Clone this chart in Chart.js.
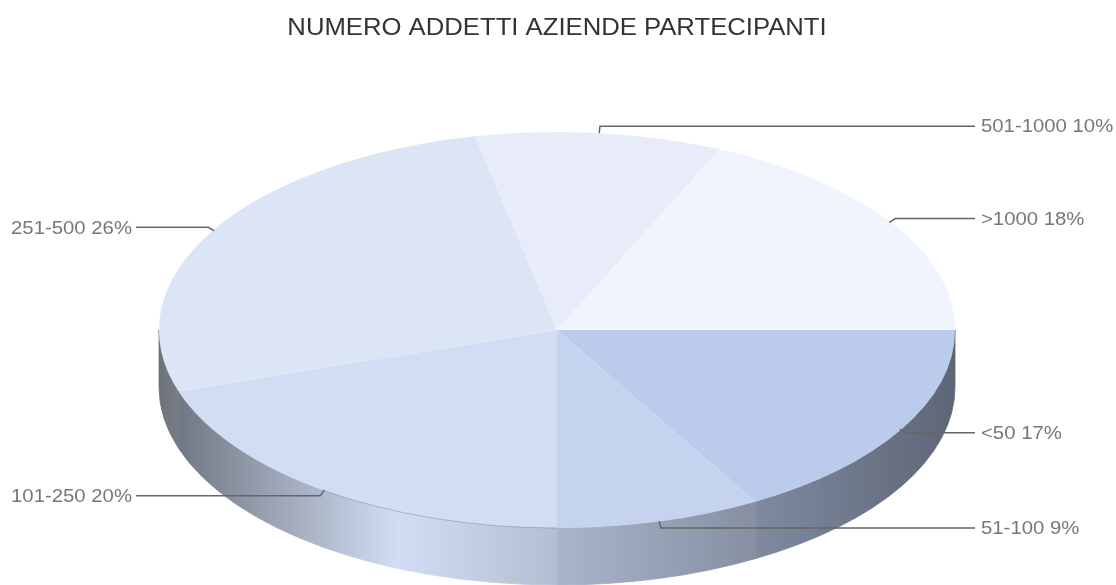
<!DOCTYPE html>
<html>
<head>
<meta charset="utf-8">
<title>Numero addetti</title>
<script src="https://cdn.jsdelivr.net/npm/chart.js@4"></script>
<style>
  html, body { margin: 0; padding: 0; background: #fff; overflow: hidden; }
  canvas { display: block; filter: blur(0.7px); }
</style>
</head>
<body>
<canvas id="pie" width="1116" height="585"></canvas>
<script>
// values, clockwise from 3 o'clock
const categories = ["<50", "51-100", "101-250", "251-500", "501-1000", ">1000"];
const shares = [16.7, 8.3, 20, 26.7, 10, 18.3];
const shownPct = ["17%", "9%", "20%", "26%", "10%", "18%"];
const topColors = ["#bbcbeb", "#c5d3ee", "#d1ddf3", "#dce5f5", "#e7ecf8", "#f0f4fc"];
const titleText = "NUMERO ADDETTI AZIENDE PARTECIPANTI";

// flat pie gets stretched into an ellipse when drawn
const STRETCH = 398 / 198;
const DEPTH = 57;
const FONT = "Liberation Sans";
// the reference text is a bit wider than the font, same factor everywhere
const TEXT_WIDE = 1.07;

function shade(hex, f){
  const n = parseInt(hex.slice(1), 16);
  const c = [n >> 16, (n >> 8) & 255, n & 255].map(v => Math.round(v * f));
  return `rgb(${c[0]},${c[1]},${c[2]})`;
}

function wideText(ctx, text, x, y, align){
  ctx.save();
  ctx.translate(x, y);
  ctx.scale(TEXT_WIDE, 1);
  ctx.textAlign = align;
  ctx.textBaseline = "middle";
  ctx.fillText(text, 0, 0);
  ctx.restore();
}

const pie3d = {
  id: "pie3d",
  beforeDatasetsDraw(chart){
    const ctx = chart.ctx;
    const arcs = chart.getDatasetMeta(0).data;
    const cx = arcs[0].x, cy = arcs[0].y, ry = arcs[0].outerRadius, rx = ry * STRETCH;

    // side wall, only the front half shows
    arcs.forEach((arc, i) => {
      const a0 = Math.max(arc.startAngle, 0), a1 = Math.min(arc.endAngle, Math.PI);
      if (a1 <= a0) return;
      const g = ctx.createLinearGradient(cx - rx, 0, cx + rx, 0);
      g.addColorStop(0, shade(topColors[i], 0.5));
      g.addColorStop(0.3, shade(topColors[i], 1));
      g.addColorStop(1, shade(topColors[i], 0.5));
      ctx.beginPath();
      ctx.ellipse(cx, cy, rx, ry, 0, a0, a1);
      ctx.ellipse(cx, cy + DEPTH, rx, ry, 0, a1, a0, true);
      ctx.closePath();
      ctx.fillStyle = g;
      ctx.fill();
      // hides the seam between two neighbours
      ctx.strokeStyle = g;
      ctx.lineWidth = 0.8;
      ctx.stroke();
    });

    ctx.save();
    ctx.translate(cx, cy);
    ctx.scale(STRETCH, 1);
    ctx.translate(-cx, -cy);
  },
  afterDatasetsDraw(chart){
    const ctx = chart.ctx;
    ctx.restore();

    const arcs = chart.getDatasetMeta(0).data;
    const cx = arcs[0].x, cy = arcs[0].y, ry = arcs[0].outerRadius, rx = ry * STRETCH;

    // thin dark rim under the 101-250 slice
    const rim = arcs[2];
    ctx.beginPath();
    ctx.ellipse(cx, cy, rx, ry, 0, Math.PI / 2, (rim.startAngle + rim.endAngle) / 2);
    ctx.strokeStyle = "rgba(90,100,120,0.45)";
    ctx.lineWidth = 0.8;
    ctx.stroke();

    arcs.forEach((arc, i) => {
      const mid = (arc.startAngle + arc.endAngle) / 2;
      const c = Math.cos(mid), s = Math.sin(mid);
      const ax = cx + (rx - 2) * c, ay = cy + ry * s;
      const bx = ax + 7 * c, by = ay + 7 * s;
      const right = c > 0;
      const endX = right ? 975 : 136;

      ctx.beginPath();
      ctx.moveTo(ax, ay);
      ctx.lineTo(bx, by);
      ctx.lineTo(endX, by);
      ctx.strokeStyle = "#666";
      ctx.lineWidth = 1.5;
      ctx.stroke();

      ctx.fillStyle = "#777";
      ctx.font = `19px "${FONT}"`;
      wideText(ctx, categories[i] + " " + shownPct[i], right ? endX + 6 : endX - 4, by + 1, right ? "left" : "right");
    });

    ctx.fillStyle = "#333";
    ctx.font = `24px "${FONT}"`;
    wideText(ctx, titleText, cx, 28, "center");
  }
};

new Chart(document.getElementById("pie"), {
  type: "pie",
  data: {
    labels: categories,
    datasets: [{
      data: shares,
      backgroundColor: topColors,
      borderWidth: 0,
      clip: false
    }]
  },
  options: {
    responsive: false,
    animation: false,
    rotation: 90,
    layout: { padding: { top: 132, left: 359, right: 361, bottom: 57 } },
    plugins: {
      legend: { display: false },
      tooltip: { enabled: false },
      title: { display: false }
    }
  },
  plugins: [pie3d]
});
</script>
</body>
</html>
